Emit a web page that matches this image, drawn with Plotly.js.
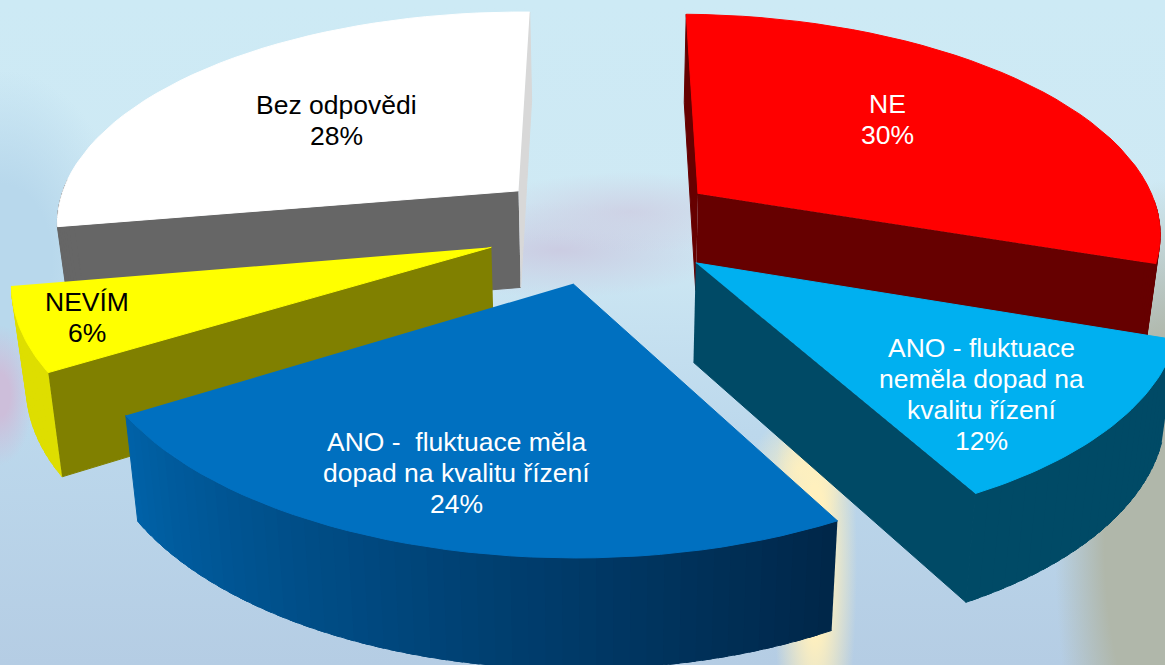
<!DOCTYPE html>
<html><head><meta charset="utf-8">
<script src="https://cdn.plot.ly/plotly-3.0.1.min.js"></script>
<style>
html,body{margin:0;padding:0;width:1165px;height:665px;overflow:hidden}
body{background:
 radial-gradient(ellipse 42px 250px at 815px 560px,rgba(255,240,190,1) 30%,rgba(255,240,190,0)),
 radial-gradient(ellipse 50px 55px at 800px 470px,rgba(255,240,190,.9),rgba(255,240,190,0)),
 radial-gradient(ellipse 110px 360px at 1165px 540px,rgba(176,183,170,1) 55%,rgba(176,183,170,0)),
 radial-gradient(ellipse 150px 40px at 630px 212px,rgba(206,208,228,.9),rgba(206,208,228,0)),
 radial-gradient(ellipse 170px 48px at 560px 250px,rgba(203,204,226,1),rgba(203,204,226,0)),
 radial-gradient(ellipse 34px 70px at 0px 395px,rgba(205,190,218,1) 30%,rgba(205,190,218,0)),
 radial-gradient(ellipse 130px 190px at 0px 260px,rgba(184,216,236,1) 40%,rgba(184,216,236,0)),
 linear-gradient(180deg,#cdeaf5 0%,#cfe9f4 35%,#bcd8ec 65%,#b5cde4 100%);}
#chart{width:1165px;height:665px}
</style></head><body><div id="chart"></div>
<script>
// Data
const categories = ["NE","ANO - fluktuace neměla dopad na kvalitu řízení","ANO - fluktuace měla dopad na kvalitu řízení","NEVÍM","Bez odpovědi"];
const values = [30,12,24,6,28];
const labelLines = [
 ["NE"],
 ["ANO - fluktuace","neměla dopad na","kvalitu řízení"],
 ["ANO -&nbsp;&nbsp;fluktuace měla","dopad na kvalitu řízení"],
 ["NEVÍM"],
 ["Bez odpovědi"]
];
// Style
const topColors   = ["#ff0000","#00b0f0","#0070c0","#ffff00","#ffffff"];
const textColors  = ["#ffffff","#ffffff","#ffffff","#000000","#000000"];
const startWall   = ["#660000",null,null,"#808000","#666666"];
const endWall     = ["#660000","#004a66",null,null,"#d8d8d8"];
const rimFrom     = ["#660000","#004a66","#002648","#dede00","#666666"];
const rimTo       = ["#660000","#004a66","#0062a8","#dede00","#666666"];
const labelX      = [887,981,456,87,336];
const labelY      = [119,394,473,317,120];
const sliceDx     = [0,-2,-3,-5,0];
const sliceDy     = [0,3,6,4,1];
const drawOrder   = [4,0,3,1,2];
// Projection
const xc=606, yc=224, A=465, B=215, K=0.15, PULL=0.25, DEPTH=98, DEPTH_K=0.095, SHRINK=0.025, SHEAR=0.008;
const LINE_STEP=31;

function project(X,Y,down,i){
  const d=1+K*Y; let x=xc+A*X/d, y=yc-B*Y/d;
  y+=SHEAR*(x-xc);
  if(down){ x=xc+(x-xc)*(1-SHRINK); y+=DEPTH/(1+DEPTH_K*Y); }
  return [x+sliceDx[i],y+sliceDy[i]];
}
const total=values.reduce((a,b)=>a+b,0);
function mix(a,b,t){
  const p=h=>[1,3,5].map(i=>parseInt(h.substr(i,2),16));
  const ca=p(a),cb=p(b);
  return "rgb("+ca.map((v,i)=>Math.round(v+(cb[i]-v)*t)).join(",")+")";
}
const traces=[];
function poly(pts,color,name){
  traces.push({type:"scatter",mode:"lines",fill:"toself",fillcolor:color,
    x:pts.map(p=>p[0]),y:pts.map(p=>p[1]),name:name,
    line:{color:color,width:1},hoverinfo:"skip",showlegend:false});
}
let acc=0; const spans=values.map(v=>{const s=acc;acc+=v;return [s/total*2*Math.PI,acc/total*2*Math.PI];});
drawOrder.forEach(i=>{
  const [a0,a1]=spans[i], mid=(a0+a1)/2;
  const ox=PULL*Math.sin(mid), oy=PULL*Math.cos(mid);
  const rim=t=>[ox+Math.sin(t),oy+Math.cos(t)];
  const P=(w,down)=>project(w[0],w[1],down,i);
  const c=[ox,oy];
  if(startWall[i]) poly([P(c),P(rim(a0)),P(rim(a0),1),P(c,1)],startWall[i],categories[i]);
  if(endWall[i])   poly([P(c),P(rim(a1)),P(rim(a1),1),P(c,1)],endWall[i],categories[i]);
  const N=Math.max(8,Math.round((a1-a0)/0.03));
  for(let k=0;k<N;k++){
    const t0=a0+(a1-a0)*k/N, t1=Math.min(a1,a0+(a1-a0)*(k+1.6)/N);
    if(Math.cos(t0)>0) continue;            // back of the rim is never seen
    poly([P(rim(t0)),P(rim(t1)),P(rim(t1),1),P(rim(t0),1)],mix(rimFrom[i],rimTo[i],(k+.5)/N),categories[i]);
  }
  const top=[P(c)];
  for(let k=0;k<=40;k++) top.push(P(rim(a0+(a1-a0)*k/40)));
  poly(top,topColors[i],categories[i]);
});
const annotations=[];
categories.forEach((c,i)=>{
  const lines=labelLines[i].concat([values[i]+"%"]);
  lines.forEach((t,j)=>annotations.push({
    x:labelX[i],y:labelY[i]+(j-(lines.length-1)/2)*LINE_STEP,xref:"x",yref:"y",showarrow:false,align:"center",
    text:t,font:{family:"Liberation Sans, Arial, sans-serif",size:26.5,color:textColors[i]}
  }));
});
Plotly.newPlot("chart",traces,{
  width:1165,height:665,margin:{l:0,r:0,t:0,b:0},
  paper_bgcolor:"rgba(0,0,0,0)",plot_bgcolor:"rgba(0,0,0,0)",showlegend:false,
  xaxis:{range:[0,1165],visible:false,fixedrange:true},
  yaxis:{range:[665,0],visible:false,fixedrange:true},
  annotations:annotations
},{displayModeBar:false,staticPlot:true});
</script></body></html>
